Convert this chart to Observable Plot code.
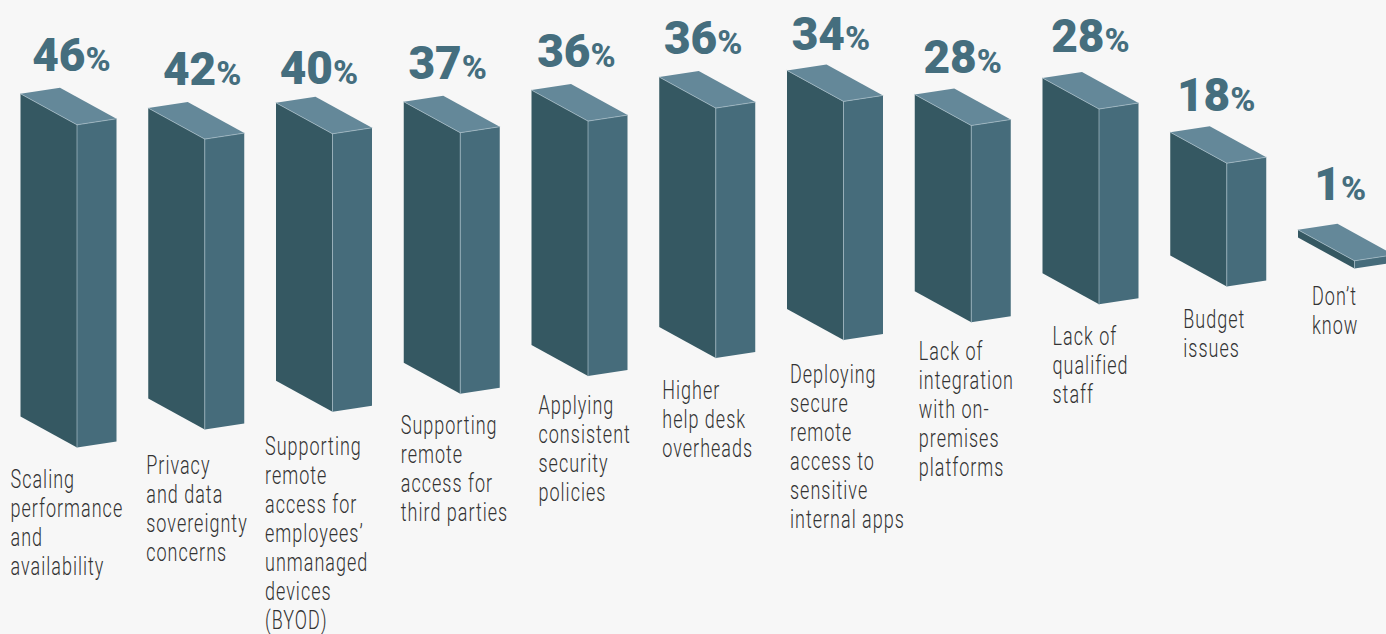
<!DOCTYPE html>
<html>
<head>
<meta charset="utf-8">
<script src="https://cdn.jsdelivr.net/npm/d3@7"></script>
<script src="https://cdn.jsdelivr.net/npm/@observablehq/plot@0.6"></script>
<style>
  html, body { margin: 0; padding: 0; background: #f7f7f7; overflow: hidden; }
  svg { display: block; }
</style>
</head>
<body>
<div id="chart"></div>
<script>
const categories = [
  "Scaling\nperformance\nand\navailability",
  "Privacy\nand data\nsovereignty\nconcerns",
  "Supporting\nremote\naccess for\nemployees’\nunmanaged\ndevices\n(BYOD)",
  "Supporting\nremote\naccess for\nthird parties",
  "Applying\nconsistent\nsecurity\npolicies",
  "Higher\nhelp desk\noverheads",
  "Deploying\nsecure\nremote\naccess to\nsensitive\ninternal apps",
  "Lack of\nintegration\nwith on-\npremises\nplatforms",
  "Lack of\nqualified\nstaff",
  "Budget\nissues",
  "Don’t\nknow"
];
const shares = [46.1, 41.5, 39.7, 37.3, 36.4, 35.7, 34.1, 28.1, 27.9, 17.6, 1.1];

// Layout of the drawing (projection and label nudges), in screen pixels
const W = 1386, H = 634, slot = 127.75, unit = 7;
const originX = 20, firstFloorY = 447, floorStep = 17.9;
const frontW = 56.5, frontRise = 31, backW = 39.5, backRise = 6;
const valueDx = [65, 68, 57, 58, 59, 58, 58, 62, 62, 60, 43];
const valueGap = [17, 17, 13, 17, 17, 17, 14, 16, 20, 15, 24];
const labelDx = [-10, -2, -11, -3, 7, 3, 3, 4, 10, 13, 14];
const labelGap = [40, 44, 43, 40, 38, 41, 42.5, 38, 41, 42, 36];
const lineStep = 29;
const narrow = 0.72, tracking = "1.4px";

const xs = px => px / slot;
const ys = px => px / unit;
const floor = i => (H - firstFloorY + floorStep * i) / unit;

const rows = shares.map((v, i) => ({i, v, f: floor(i)}));

const corner = (r, name) => {
  const c = {
    lb: [r.i, r.f + ys(frontRise)],
    fb: [r.i + xs(frontW), r.f],
    rb: [r.i + xs(frontW + backW), r.f + ys(backRise)],
    lt: [r.i, r.f + ys(frontRise) + r.v],
    ft: [r.i + xs(frontW), r.f + r.v],
    rt: [r.i + xs(frontW + backW), r.f + ys(backRise) + r.v],
    bt: [r.i + xs(backW), r.f + ys(frontRise + backRise) + r.v]
  }[name];
  return {id: r.i, x: c[0], y: c[1]};
};
const path = names => rows.flatMap(r => names.map(n => corner(r, n)));

const lineOpts = {x: "x", y: "y", z: "id", curve: "linear"};
const byLine = categories.flatMap((c, i) =>
  c.split("\n").map((text, k) => ({
    text,
    x: i + xs(labelDx[i]),
    y: rows[i].f - ys(labelGap[i] + k * lineStep)
  })));
const valueRows = rows.map(r => ({
  text: String(Math.round(r.v)),
  x: r.i + xs(valueDx[r.i]),
  y: r.f + ys(frontRise + backRise + valueGap[r.i]) + r.v
}));

// Horizontally condenses each text, since no condensed face is installed
const condensed = (index, scales, values, dims, ctx, next) => {
  const g = next(index, scales, values, dims, ctx);
  g.querySelectorAll("text").forEach(t => {
    t.setAttribute("transform", `${t.getAttribute("transform") || ""} scale(${narrow},1)`);
    t.style.letterSpacing = tracking;
  });
  return g;
};

const plot = Plot.plot({
  width: W, height: H,
  margin: 0,
  style: {background: "#f7f7f7", overflow: "hidden"},
  x: {type: "linear", domain: [-originX / slot, (W - originX) / slot], range: [0, W], axis: null},
  y: {type: "linear", domain: [0, H / unit], range: [H, 0], axis: null},
  marks: [
    Plot.line(path(["lb", "fb", "ft", "lt", "lb"]), {...lineOpts, fill: "#355862", stroke: "none"}),
    Plot.line(path(["fb", "rb", "rt", "ft", "fb"]), {...lineOpts, fill: "#466c7b", stroke: "none"}),
    Plot.line(path(["lt", "bt", "rt", "ft", "lt"]), {...lineOpts, fill: "#648899", stroke: "none"}),
    Plot.line(path(["fb", "ft", "rt"]), {...lineOpts, stroke: "#a9bec8", strokeWidth: 0.7}),
    Plot.line(path(["lt", "ft"]), {...lineOpts, stroke: "#a9bec8", strokeWidth: 0.7}),
    Plot.text(valueRows, {
      x: "x", y: "y", text: "text", textAnchor: "end", lineAnchor: "bottom",
      fontFamily: "Roboto", fontWeight: 900, fontSize: 46, fill: "#456e7e"
    }),
    Plot.text(valueRows, {
      x: "x", y: "y", text: () => "%", textAnchor: "start", lineAnchor: "bottom",
      fontFamily: "Roboto", fontWeight: 800, fontSize: 34, fill: "#456e7e"
    }),
    Plot.text(byLine, {
      x: "x", y: "y", text: "text", textAnchor: "start", lineAnchor: "bottom",
      fontFamily: "Roboto", fontWeight: 300, fontSize: 25, fill: "#333333",
      render: condensed
    })
  ]
});
document.getElementById("chart").append(plot);
</script>
</body>
</html>
